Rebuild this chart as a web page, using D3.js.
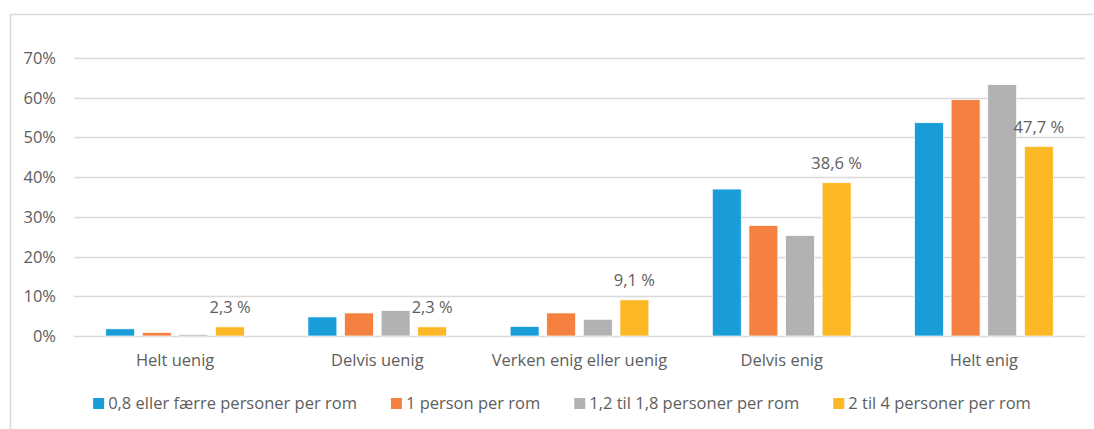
<!DOCTYPE html>
<html>
<head>
<meta charset="utf-8">
<script src="https://cdn.jsdelivr.net/npm/d3@7"></script>
<style>
    body { margin: 0; background: #fff; }
    text { font-family: "Open Sans", sans-serif; fill: #5e5e5e; font-size: 16.5px; }
</style>
</head>
<body>
<script>
let categories = ["Helt uenig", "Delvis uenig", "Verken enig eller uenig", "Delvis enig", "Helt enig"];
let seriesNames = ["0,8 eller færre personer per rom", "1 person per rom", "1,2 til 1,8 personer per rom", "2 til 4 personer per rom"];
let values08 = [1.8, 4.8, 2.4, 37.0, 53.7];
let values1 = [0.9, 5.8, 5.8, 27.8, 59.5];
let values12 = [0.4, 6.4, 4.2, 25.3, 63.3];
let values2 = [2.3, 2.3, 9.1, 38.6, 47.7];
let yTicks = [0, 10, 20, 30, 40, 50, 60, 70];

let seriesValues = [values08, values1, values12, values2];
let colors = ["#199dd9", "#f4813f", "#b2b2b4", "#fcb825"];

let width = 1094;
let height = 429;

let svg = d3.select("body").append("svg")
    .attr("width", width)
    .attr("height", height);

// chart frame (top and left edges only visible)
svg.append("line")
    .attr("x1", 10).attr("y1", 14.5).attr("x2", width).attr("y2", 14.5)
    .attr("stroke", "#d9d9d9").attr("stroke-width", 1.5);
svg.append("line")
    .attr("x1", 10.5).attr("y1", 14).attr("x2", 10.5).attr("y2", height)
    .attr("stroke", "#d9d9d9").attr("stroke-width", 1.5);

let x0 = d3.scaleBand()
    .domain(categories)
    .range([74, 1085]);

let x1 = d3.scaleBand()
    .domain(d3.range(seriesNames.length))
    .range([0, x0.bandwidth()])
    .paddingInner(0.21)
    .paddingOuter(0.867);

let y = d3.scaleLinear()
    .domain([0, 70])
    .range([336, 58]);

// gridlines
svg.selectAll(".grid")
    .data(yTicks)
    .join("line")
    .attr("class", "grid")
    .attr("x1", 74)
    .attr("x2", 1085)
    .attr("y1", d => Math.round(y(d)) + 0.5)
    .attr("y2", d => Math.round(y(d)) + 0.5)
    .attr("stroke", "#d9d9d9")
    .attr("stroke-width", 1.3);

svg.selectAll(".ticklabel")
    .data(yTicks)
    .join("text")
    .attr("class", "ticklabel")
    .attr("x", 56)
    .attr("y", d => y(d) + 6)
    .attr("text-anchor", "end")
    .text(d => d + "%");

// bars
let rows = [];
seriesValues.forEach((vals, s) => {
    vals.forEach((v, c) => rows.push({s: s, c: categories[c], v: v}));
});

svg.selectAll(".bar")
    .data(rows)
    .join("rect")
    .attr("class", "bar")
    .attr("x", d => x0(d.c) + x1(d.s))
    .attr("width", x1.bandwidth())
    .attr("y", d => y(d.v))
    .attr("height", d => y(0) - y(d.v))
    .attr("fill", d => colors[d.s])
    .attr("stroke", "#fff")
    .attr("stroke-width", 0.7);

// data labels only for last series
svg.selectAll(".datalabel")
    .data(rows.filter(d => d.s === 3))
    .join("text")
    .attr("class", "datalabel")
    .attr("x", d => x0(d.c) + x1(d.s) + x1.bandwidth() / 2)
    .attr("y", d => y(d.v) - 14)
    .attr("text-anchor", "middle")
    .text(d => d.v.toFixed(1).replace(".", ",") + " %");

svg.selectAll(".catlabel")
    .data(categories)
    .join("text")
    .attr("class", "catlabel")
    .attr("x", d => x0(d) + x0.bandwidth() / 2)
    .attr("y", 366)
    .attr("text-anchor", "middle")
    .text(d => d);

// legend
let legend = svg.append("g").attr("class", "legend");
let items = legend.selectAll(".legend-item")
    .data(seriesNames)
    .join("g")
    .attr("class", "legend-item");

items.append("rect")
    .attr("x", 0)
    .attr("y", 398)
    .attr("width", 11)
    .attr("height", 11)
    .attr("fill", (d, i) => colors[i]);

items.append("text")
    .attr("x", 15)
    .attr("y", 409)
    .text(d => d);

let pos = 0;
let offsets = [];
items.each(function() {
    offsets.push(pos);
    let w = d3.select(this).select("text").node().getComputedTextLength();
    pos += 15 + w + 34;
});
let total = pos - 34;
let start = 562 - total / 2;
items.attr("transform", (d, i) => `translate(${start + offsets[i]},0)`);
</script>
</body>
</html>
